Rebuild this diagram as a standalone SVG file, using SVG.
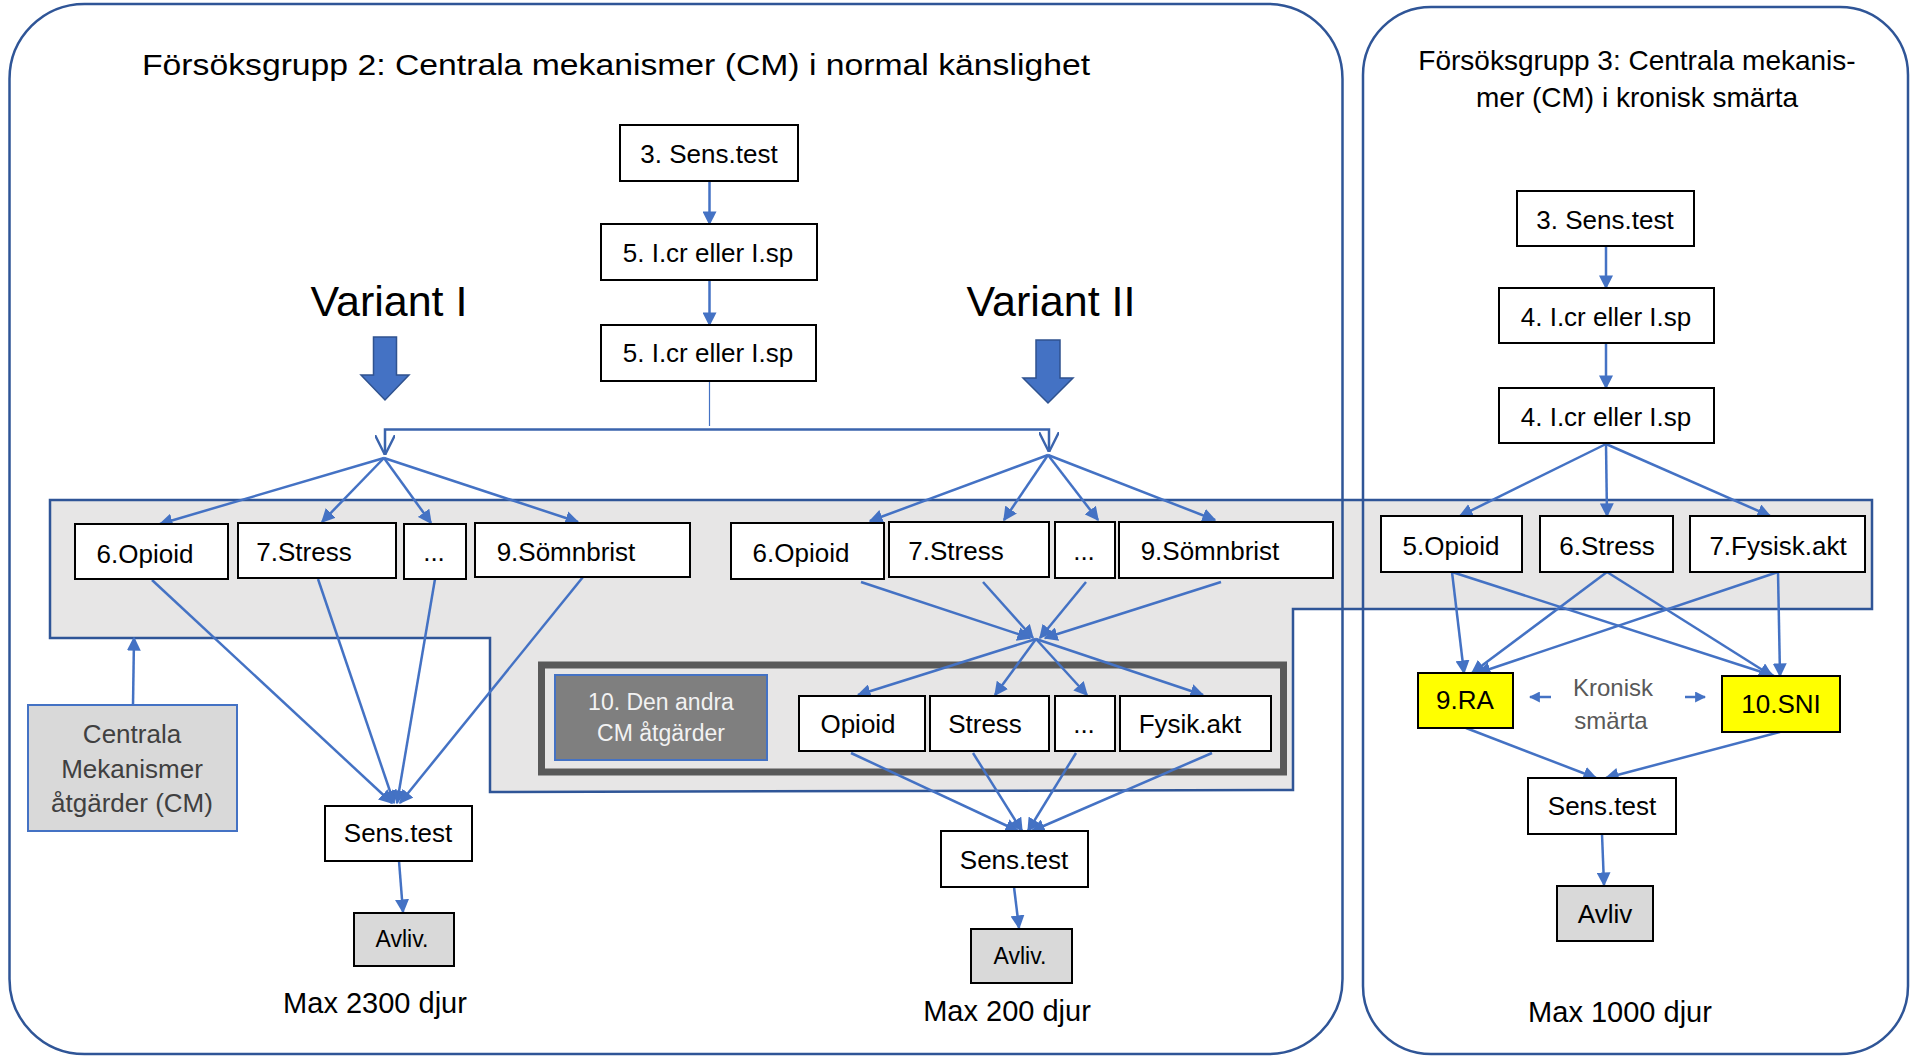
<svg xmlns="http://www.w3.org/2000/svg" width="1919" height="1056" viewBox="0 0 1919 1056">
<style>
text{font-family:"Liberation Sans",Arial,sans-serif;fill:#000;text-anchor:middle}
.box{fill:#fff;stroke:#000;stroke-width:2}
.gry{fill:#D9D9D9;stroke:#000;stroke-width:2}
.yel{fill:#FFFF00;stroke:#000;stroke-width:2}
.t25{font-size:26px}
.c{fill:none;stroke:#4472C4;stroke-width:2.5}
.grp{fill:none;stroke:#2F5597;stroke-width:2.5}
</style>
<defs>
<marker id="a" viewBox="0 0 10 10" refX="9" refY="5" markerWidth="14" markerHeight="14" markerUnits="userSpaceOnUse" orient="auto"><path d="M0,0 L10,5 L0,10 z" fill="#4472C4"/></marker>
<marker id="s" viewBox="0 0 10 10" refX="9" refY="5" markerWidth="11" markerHeight="11" markerUnits="userSpaceOnUse" orient="auto"><path d="M0,0 L10,5 L0,10 z" fill="#4472C4"/></marker>
<marker id="v" viewBox="0 0 10 10" refX="10" refY="5" markerWidth="20" markerHeight="20" markerUnits="userSpaceOnUse" orient="auto"><path d="M0,0 L10,5 L0,10" fill="none" stroke="#3B64AD" stroke-width="1.2"/></marker>
</defs>

<!-- gray region -->
<polygon points="50,500 1872,500 1872,609 1293,609 1293,790 490,792 490,638 50,638" fill="#E7E6E6" stroke="#2F5597" stroke-width="2.5"/>

<!-- group outlines -->
<g id="group2">
<rect class="grp" x="9.5" y="4" width="1333" height="1050" rx="75"/>
<text x="616" y="75" style="font-size:30px" textLength="948" lengthAdjust="spacingAndGlyphs">Försöksgrupp 2: Centrala mekanismer (CM) i normal känslighet</text>
<text x="389" y="316" style="font-size:43px">Variant I</text>
<text x="1051" y="316" style="font-size:43px">Variant II</text>
<text x="375" y="1013" style="font-size:29px">Max 2300 djur</text>
<text x="1007" y="1021" style="font-size:29px">Max 200 djur</text>
</g>
<g id="group3">
<rect class="grp" x="1363" y="7" width="545" height="1047" rx="68"/>
<text x="1637" y="70" style="font-size:28px">Försöksgrupp 3: Centrala mekanis-</text>
<text x="1637" y="107" style="font-size:28px">mer (CM) i kronisk smärta</text>
<text x="1613" y="696" style="font-size:24px;fill:#595959">Kronisk</text>
<text x="1611" y="729" style="font-size:24px;fill:#595959">smärta</text>
<text x="1620" y="1022" style="font-size:29px">Max 1000 djur</text>
</g>

<!-- big arrows -->
<g id="bigarrows">
<path d="M373.5,337 H396.5 V375 H409 L385,400 L361,375 H373.5 Z" fill="#4472C4" stroke="#2F528F" stroke-width="1.5"/>
<path d="M1036,340 H1060 V378 H1073 L1048,403 L1023,378 H1036 Z" fill="#4472C4" stroke="#2F528F" stroke-width="1.5"/>
</g>

<!-- dark frame -->
<rect x="541.5" y="665" width="742" height="107" fill="none" stroke="#595959" stroke-width="7"/>

<!-- connectors -->
<g id="connectors">
<line class="c" x1="709.5" y1="181" x2="709.5" y2="224" marker-end="url(#a)"/>
<line class="c" x1="709.5" y1="280" x2="709.5" y2="325" marker-end="url(#a)"/>
<line x1="709.5" y1="381" x2="709.5" y2="426" stroke="#4472C4" stroke-width="1.2"/>
<path d="M385,455 V429.5 H1049 V452" fill="none" stroke="#3B64AD" stroke-width="2.5"/>
<line x1="385" y1="436" x2="385" y2="455" stroke="#3B64AD" stroke-width="1" marker-end="url(#v)"/>
<line x1="1049" y1="433" x2="1049" y2="452" stroke="#3B64AD" stroke-width="1" marker-end="url(#v)"/>
<!-- variant I fan -->
<line class="c" x1="384" y1="458" x2="160" y2="524" marker-end="url(#a)"/>
<line class="c" x1="384" y1="458" x2="322" y2="522" marker-end="url(#a)"/>
<line class="c" x1="384" y1="458" x2="431" y2="523" marker-end="url(#a)"/>
<line class="c" x1="384" y1="458" x2="578" y2="522" marker-end="url(#a)"/>
<!-- variant II fan -->
<line class="c" x1="1048" y1="455" x2="870" y2="521" marker-end="url(#a)"/>
<line class="c" x1="1048" y1="455" x2="1004" y2="520" marker-end="url(#a)"/>
<line class="c" x1="1048" y1="455" x2="1098" y2="520" marker-end="url(#a)"/>
<line class="c" x1="1048" y1="455" x2="1215" y2="520" marker-end="url(#a)"/>
<!-- variant I to sens.test -->
<line class="c" x1="152" y1="580" x2="392" y2="803" marker-end="url(#a)"/>
<line class="c" x1="318" y1="579" x2="394" y2="803" marker-end="url(#a)"/>
<line class="c" x1="435" y1="579" x2="397" y2="803" marker-end="url(#a)"/>
<line class="c" x1="583" y1="577" x2="400" y2="803" marker-end="url(#a)"/>
<line class="c" x1="399" y1="861" x2="403" y2="912" marker-end="url(#a)"/>
<!-- CM arrow -->
<line class="c" x1="133" y1="705" x2="134" y2="638" marker-end="url(#a)"/>
<!-- variant II converge -->
<line class="c" x1="861" y1="582" x2="1030" y2="638" marker-end="url(#a)"/>
<line class="c" x1="983" y1="582" x2="1033" y2="638" marker-end="url(#a)"/>
<line class="c" x1="1086" y1="582" x2="1040" y2="638" marker-end="url(#a)"/>
<line class="c" x1="1221" y1="582" x2="1045" y2="638" marker-end="url(#a)"/>
<line class="c" x1="1036" y1="639" x2="858" y2="695" marker-end="url(#a)"/>
<line class="c" x1="1036" y1="639" x2="995" y2="695" marker-end="url(#a)"/>
<line class="c" x1="1036" y1="639" x2="1087" y2="695" marker-end="url(#a)"/>
<line class="c" x1="1036" y1="639" x2="1203" y2="695" marker-end="url(#a)"/>
<line class="c" x1="851" y1="753" x2="1018" y2="831" marker-end="url(#a)"/>
<line class="c" x1="973" y1="753" x2="1022" y2="831" marker-end="url(#a)"/>
<line class="c" x1="1076" y1="753" x2="1028" y2="831" marker-end="url(#a)"/>
<line class="c" x1="1212" y1="753" x2="1032" y2="831" marker-end="url(#a)"/>
<line class="c" x1="1014" y1="887" x2="1019" y2="928" marker-end="url(#a)"/>
<!-- group 3 -->
<line class="c" x1="1606" y1="246" x2="1606" y2="288" marker-end="url(#a)"/>
<line class="c" x1="1606" y1="343" x2="1606" y2="388" marker-end="url(#a)"/>
<line class="c" x1="1606" y1="444" x2="1460" y2="516" marker-end="url(#a)"/>
<line class="c" x1="1606" y1="444" x2="1607" y2="516" marker-end="url(#a)"/>
<line class="c" x1="1606" y1="444" x2="1770" y2="516" marker-end="url(#a)"/>
<line class="c" x1="1452" y1="572" x2="1464" y2="673" marker-end="url(#a)"/>
<line class="c" x1="1452" y1="572" x2="1774" y2="676" marker-end="url(#a)"/>
<line class="c" x1="1607" y1="572" x2="1472" y2="673" marker-end="url(#a)"/>
<line class="c" x1="1607" y1="572" x2="1772" y2="676" marker-end="url(#a)"/>
<line class="c" x1="1778" y1="572" x2="1478" y2="673" marker-end="url(#a)"/>
<line class="c" x1="1778" y1="572" x2="1780" y2="676" marker-end="url(#a)"/>
<line class="c" x1="1466" y1="728" x2="1596" y2="778" marker-end="url(#a)"/>
<line class="c" x1="1780" y1="732" x2="1606" y2="778" marker-end="url(#a)"/>
<line class="c" x1="1602" y1="834" x2="1604" y2="885" marker-end="url(#a)"/>
<line class="c" x1="1551" y1="697" x2="1530" y2="697" marker-end="url(#s)"/>
<line class="c" x1="1685" y1="697" x2="1705" y2="697" marker-end="url(#s)"/>
</g>

<!-- nodes group 2 -->
<g id="g2-sens3"><rect class="box" x="620" y="125" width="178" height="56"/><text class="t25" x="709" y="163">3. Sens.test</text></g>
<g id="g2-icr1"><rect class="box" x="601" y="224" width="216" height="56"/><text class="t25" x="708" y="262">5. I.cr eller I.sp</text></g>
<g id="g2-icr2"><rect class="box" x="601" y="325" width="215" height="56"/><text class="t25" x="708" y="362">5. I.cr eller I.sp</text></g>

<g id="v1-opioid"><rect class="box" x="75" y="524" width="153" height="55"/><text class="t25" x="145" y="563">6.Opioid</text></g>
<g id="v1-stress"><rect class="box" x="238" y="523" width="158" height="55"/><text class="t25" x="304" y="561">7.Stress</text></g>
<g id="v1-dots"><rect class="box" x="404" y="524" width="62" height="55"/><text class="t25" x="434" y="561">...</text></g>
<g id="v1-somn"><rect class="box" x="475" y="523" width="215" height="54"/><text class="t25" x="566" y="561">9.Sömnbrist</text></g>

<g id="v2-opioid"><rect class="box" x="731" y="523" width="153" height="56"/><text class="t25" x="801" y="562">6.Opioid</text></g>
<g id="v2-stress"><rect class="box" x="889" y="522" width="160" height="55"/><text class="t25" x="956" y="560">7.Stress</text></g>
<g id="v2-dots"><rect class="box" x="1055" y="522" width="60" height="56"/><text class="t25" x="1084" y="560">...</text></g>
<g id="v2-somn"><rect class="box" x="1119" y="522" width="214" height="56"/><text class="t25" x="1210" y="560">9.Sömnbrist</text></g>

<g id="cm-other"><rect x="555" y="675" width="212" height="85" fill="#7F7F7F" stroke="#4472C4" stroke-width="2"/><text x="661" y="710" style="font-size:23px;fill:#F2F2F2">10. Den andra</text><text x="661" y="741" style="font-size:23px;fill:#F2F2F2">CM åtgärder</text></g>
<g id="in-opioid"><rect class="box" x="799" y="696" width="126" height="55"/><text class="t25" x="858" y="733">Opioid</text></g>
<g id="in-stress"><rect class="box" x="930" y="696" width="119" height="55"/><text class="t25" x="985" y="733">Stress</text></g>
<g id="in-dots"><rect class="box" x="1055" y="696" width="60" height="55"/><text class="t25" x="1084" y="733">...</text></g>
<g id="in-fysik"><rect class="box" x="1120" y="696" width="151" height="55"/><text class="t25" x="1190" y="733">Fysik.akt</text></g>

<g id="cm-box"><rect x="28" y="705" width="209" height="126" fill="#D9D9D9" stroke="#4472C4" stroke-width="2"/><text x="132" y="743" style="font-size:26px;fill:#404040">Centrala</text><text x="132" y="778" style="font-size:26px;fill:#404040">Mekanismer</text><text x="132" y="812" style="font-size:26px;fill:#404040">åtgärder (CM)</text></g>

<g id="v1-sens"><rect class="box" x="325" y="806" width="147" height="55"/><text class="t25" x="398" y="842">Sens.test</text></g>
<g id="v1-avliv"><rect class="gry" x="354" y="913" width="100" height="53"/><text x="402" y="947" style="font-size:23px">Avliv.</text></g>
<g id="v2-sens"><rect class="box" x="941" y="831" width="147" height="56"/><text class="t25" x="1014" y="869">Sens.test</text></g>
<g id="v2-avliv"><rect class="gry" x="971" y="929" width="101" height="54"/><text x="1020" y="964" style="font-size:23px">Avliv.</text></g>

<!-- nodes group 3 -->
<g id="g3-sens3"><rect class="box" x="1517" y="191" width="177" height="55"/><text class="t25" x="1605" y="229">3. Sens.test</text></g>
<g id="g3-icr1"><rect class="box" x="1499" y="288" width="215" height="55"/><text class="t25" x="1606" y="326">4. I.cr eller I.sp</text></g>
<g id="g3-icr2"><rect class="box" x="1499" y="388" width="215" height="55"/><text class="t25" x="1606" y="426">4. I.cr eller I.sp</text></g>
<g id="g3-opioid"><rect class="box" x="1381" y="516" width="141" height="56"/><text class="t25" x="1451" y="555">5.Opioid</text></g>
<g id="g3-stress"><rect class="box" x="1540" y="516" width="133" height="56"/><text class="t25" x="1607" y="555">6.Stress</text></g>
<g id="g3-fysisk"><rect class="box" x="1690" y="516" width="175" height="56"/><text class="t25" x="1778" y="555">7.Fysisk.akt</text></g>
<g id="g3-ra"><rect class="yel" x="1418" y="673" width="95" height="55"/><text class="t25" x="1465" y="709">9.RA</text></g>
<g id="g3-sni"><rect class="yel" x="1722" y="676" width="118" height="56"/><text class="t25" x="1781" y="713">10.SNI</text></g>
<g id="g3-sens"><rect class="box" x="1528" y="778" width="148" height="56"/><text class="t25" x="1602" y="815">Sens.test</text></g>
<g id="g3-avliv"><rect class="gry" x="1557" y="886" width="96" height="55"/><text x="1605" y="923" style="font-size:26px">Avliv</text></g>
</svg>
